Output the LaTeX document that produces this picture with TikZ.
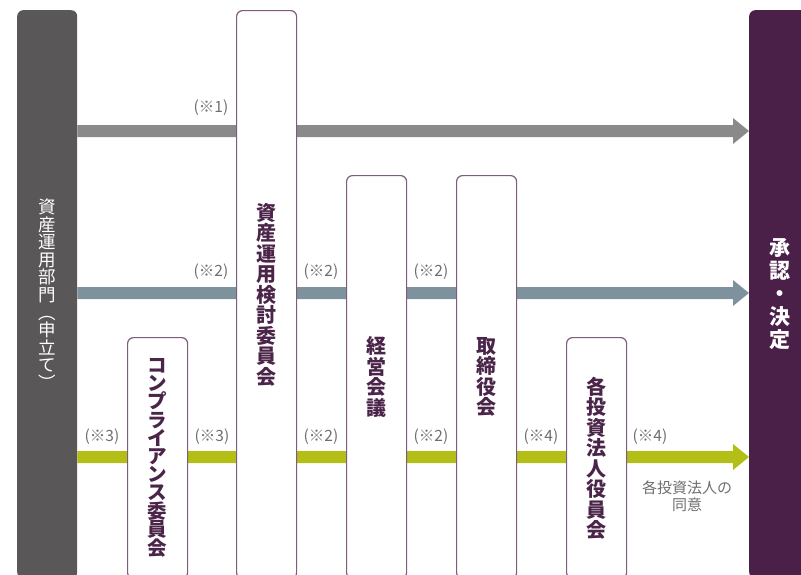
\documentclass[tikz,border=0pt]{standalone}
\usepackage{fontspec}
\setmainfont{Noto Sans CJK JP}
\usetikzlibrary{backgrounds,calc}
\definecolor{leftc}{HTML}{595757}
\definecolor{rightc}{HTML}{4A1F48}
\definecolor{boxc}{HTML}{7E5C7E}
\definecolor{txtc}{HTML}{4B2549}
\definecolor{arrA}{HTML}{8A8A8A}
\definecolor{arrB}{HTML}{7E929D}
\definecolor{arrC}{HTML}{B3BE17}
\definecolor{labc}{HTML}{6E6E6E}
\newcommand\flowarrow[2]{%
  \fill[#1] ($(L.east|-#2)+(0,-6)$) -- ($(R.west|-#2)+(-16,-6)$) -- ($(R.west|-#2)+(-16,-13)$)
    -- (R.west|-#2) -- ($(R.west|-#2)+(-16,13)$) -- ($(R.west|-#2)+(-16,6)$)
    -- ($(L.east|-#2)+(0,6)$) -- cycle;}
\begin{document}
\begin{tikzpicture}[x=1pt,y=-1pt,
  bar/.style={rounded corners=6pt, inner sep=0pt, minimum width=60pt, anchor=north west, align=center, text=white},
  stage/.style={draw=boxc, line width=1.2pt, fill=white, rounded corners=6pt, inner sep=0pt, minimum width=60pt, anchor=north west, align=center, text=txtc, font=\fontsize{20}{20.5}\selectfont\bfseries},
  note/.style={text=labc, font=\fontsize{15.5}{17}\selectfont, inner sep=0pt}
]
\useasboundingbox (0,0) rectangle (801,574);
\clip (0,0) rectangle (801,574);
% bars
\node[bar, fill=leftc, minimum height=568pt, font=\fontsize{17.5}{17.6}\selectfont] (L) at (17,10)
  {資\\産\\運\\用\\部\\門\\︵\\申\\立\\て\\︶};
\node[bar, fill=rightc, minimum width=62pt, minimum height=568pt, font=\fontsize{21}{23}\selectfont\bfseries] (R) at (749,10)
  {承\\認\\・\\決\\定};
% stages
\node[stage, minimum height=568pt] (S1) at (236,10) {資\\産\\運\\用\\検\\討\\委\\員\\会};
\node[stage, minimum height=241pt, font=\fontsize{19.5}{18.2}\selectfont\bfseries] (S0) at (127,337) {コ\\ン\\プ\\ラ\\イ\\ア\\ン\\ス\\委\\員\\会};
\node[stage, minimum height=403pt] (S2) at (346,175) {経\\営\\会\\議};
\node[stage, minimum height=403pt] (S3) at (456,175) {取\\締\\役\\会};
\node[stage, minimum height=241pt] (S4) at (566,337) {各\\投\\資\\法\\人\\役\\員\\会};
% arrows
\coordinate (yA) at (0,131);
\coordinate (yB) at (0,293);
\coordinate (yC) at (0,457);
\begin{scope}[on background layer]
  \flowarrow{arrA}{yA}
  \flowarrow{arrB}{yB}
  \flowarrow{arrC}{yC}
\end{scope}
% notes
\node[note] (n1) at (211,108) {(※1)};
\node[note] (n2a) at (211,272) {(※2)};
\node[note] (n2b) at (321,272) {(※2)};
\node[note] (n2c) at (431,272) {(※2)};
\node[note] (n3a) at (102,437) {(※3)};
\node[note] (n3b) at (212,437) {(※3)};
\node[note] (n2d) at (321,437) {(※2)};
\node[note] (n2e) at (431,437) {(※2)};
\node[note] (n4a) at (541,437) {(※4)};
\node[note] (n4b) at (650,437) {(※4)};
\node[note, align=center, font=\fontsize{15}{17}\selectfont] (cons) at (687,496) {各投資法人の\\同意};
\end{tikzpicture}
\end{document}
